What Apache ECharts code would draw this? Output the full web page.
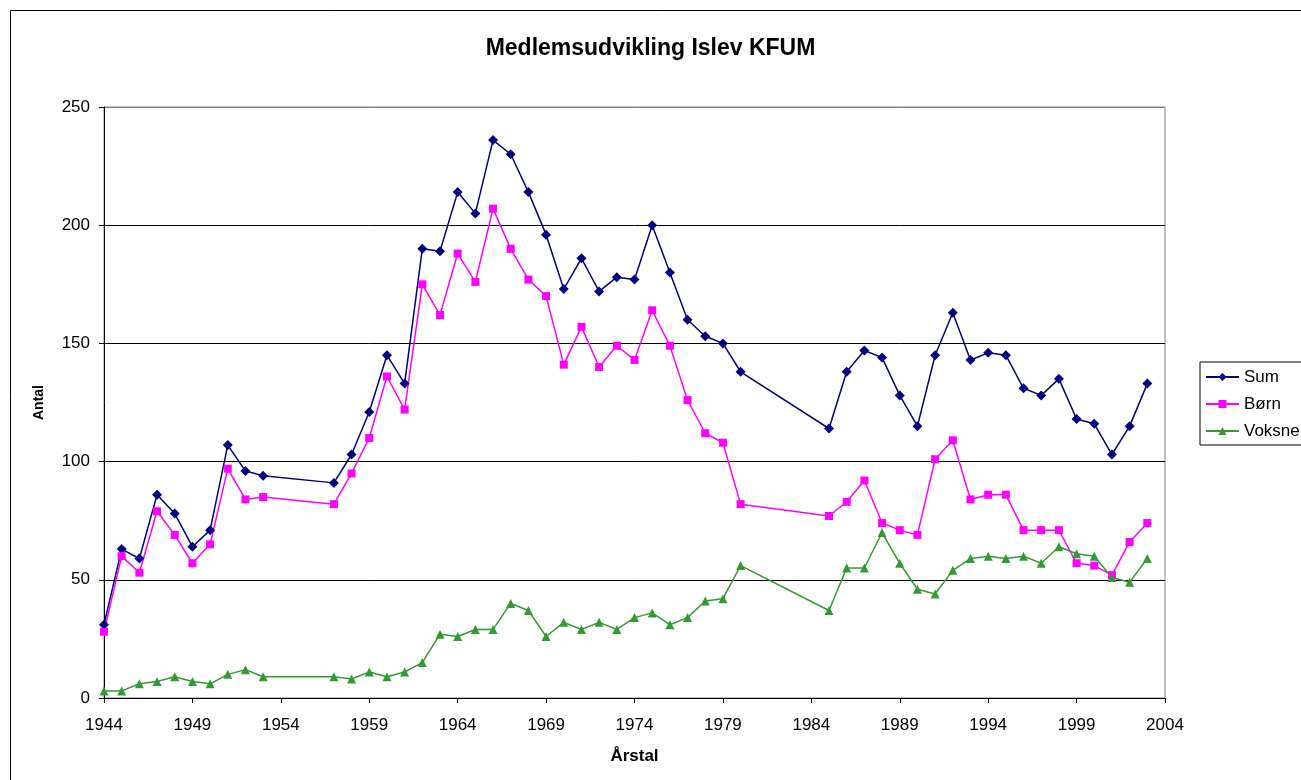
<!DOCTYPE html>
<html>
<head>
<meta charset="utf-8">
<script src="https://cdn.jsdelivr.net/npm/echarts@6/dist/echarts.min.js"></script>
<style>
  html, body { margin: 0; padding: 0; background: #fff; }
  #chart { width: 1301px; height: 780px; }
</style>
</head>
<body>
<div id="chart"></div>
<script>
// år og medlemstal
var years = [1944, 1945, 1946, 1947, 1948, 1949, 1950, 1951, 1952, 1953,
  1957, 1958, 1959, 1960, 1961, 1962, 1963, 1964, 1965, 1966, 1967, 1968,
  1969, 1970, 1971, 1972, 1973, 1974, 1975, 1976, 1977, 1978, 1979, 1980,
  1985, 1986, 1987, 1988, 1989, 1990, 1991, 1992, 1993, 1994, 1995, 1996,
  1997, 1998, 1999, 2000, 2001, 2002, 2003];
var sum = [31, 63, 59, 86, 78, 64, 71, 107, 96, 94,
  91, 103, 121, 145, 133, 190, 189, 214, 205, 236, 230, 214,
  196, 173, 186, 172, 178, 177, 200, 180, 160, 153, 150, 138,
  114, 138, 147, 144, 128, 115, 145, 163, 143, 146, 145, 131,
  128, 135, 118, 116, 103, 115, 133];
var born = [28, 60, 53, 79, 69, 57, 65, 97, 84, 85,
  82, 95, 110, 136, 122, 175, 162, 188, 176, 207, 190, 177,
  170, 141, 157, 140, 149, 143, 164, 149, 126, 112, 108, 82,
  77, 83, 92, 74, 71, 69, 101, 109, 84, 86, 86, 71,
  71, 71, 57, 56, 52, 66, 74];
var voksne = [3, 3, 6, 7, 9, 7, 6, 10, 12, 9,
  9, 8, 11, 9, 11, 15, 27, 26, 29, 29, 40, 37,
  26, 32, 29, 32, 29, 34, 36, 31, 34, 41, 42, 56,
  37, 55, 55, 70, 57, 46, 44, 54, 59, 60, 59, 60,
  57, 64, 61, 60, 51, 49, 59];

function pairs(vals) {
  var out = [];
  for (var i = 0; i < years.length; i++) out.push([years[i], vals[i]]);
  return out;
}

var chartDom = document.getElementById("chart");
var myChart = echarts.init(chartDom);
var font = "Liberation Sans, Arial, sans-serif";

var option = {
  animation: false,
  backgroundColor: "#fff",
  textStyle: { fontFamily: font },
  title: {
    text: "Medlemsudvikling Islev KFUM",
    left: "center",
    top: 32,
    textStyle: { fontSize: 23, fontWeight: "bold", color: "#000", fontFamily: font },
  },
  graphic: [
    {
      type: "rect",
      shape: { x: 10.5, y: 10.5, width: 1400, height: 900 },
      style: { fill: null, stroke: "#000", lineWidth: 1 },
      silent: true,
    },
  ],
  grid: {
    left: 104,
    top: 107,
    right: 136,
    bottom: 82,
    show: true,
    borderColor: "#808080",
    borderWidth: 1,
  },
  legend: {
    orient: "vertical",
    left: 1200,
    top: 362,
    padding: [6, 8, 5, 5],
    itemGap: 9,
    itemWidth: 33,
    itemHeight: 10,
    borderColor: "#000",
    borderWidth: 1,
    textStyle: { fontSize: 17, lineHeight: 18, color: "#000", fontFamily: font },
    data: ["Sum", "Børn", "Voksne"],
  },
  xAxis: {
    type: "value",
    min: 1944,
    max: 2004,
    interval: 5,
    name: "Årstal",
    nameLocation: "middle",
    nameGap: 50,
    nameTextStyle: { fontSize: 17, fontWeight: "bold", color: "#000" },
    axisLine: { lineStyle: { color: "#000", width: 1 } },
    axisTick: { show: true, inside: false, length: 5, lineStyle: { color: "#000" } },
    axisLabel: {
      fontSize: 17,
      color: "#000",
      margin: 19,
      formatter: function (v) { return String(v); },
    },
    splitLine: { show: false },
  },
  yAxis: {
    type: "value",
    min: 0,
    max: 250,
    interval: 50,
    name: "Antal",
    nameLocation: "middle",
    nameGap: 58,
    nameTextStyle: { fontSize: 14, fontWeight: "bold", color: "#000" },
    axisLine: { show: true, lineStyle: { color: "#000", width: 1 } },
    axisTick: { show: true, inside: false, length: 5, lineStyle: { color: "#000" } },
    axisLabel: { fontSize: 17, color: "#000", margin: 14 },
    splitLine: {
      show: true,
      lineStyle: { color: ["#000", "#000", "#000", "#000", "#000", "#808080"], width: 1 },
    },
  },
  series: [
    {
      name: "Sum",
      type: "line",
      data: pairs(sum),
      symbol: "diamond",
      symbolSize: 10,
      color: "#000080",
      lineStyle: { width: 1.5, color: "#000080" },
      itemStyle: { color: "#000080" },
    },
    {
      name: "Børn",
      type: "line",
      data: pairs(born),
      symbol: "rect",
      symbolSize: 8,
      color: "#ff00ff",
      lineStyle: { width: 1.5, color: "#ff00ff" },
      itemStyle: { color: "#ff00ff" },
    },
    {
      name: "Voksne",
      type: "line",
      data: pairs(voksne),
      symbol: "triangle",
      symbolSize: 9,
      color: "#339933",
      lineStyle: { width: 1.5, color: "#339933" },
      itemStyle: { color: "#339933" },
    },
  ],
};

option && myChart.setOption(option);
</script>
</body>
</html>
